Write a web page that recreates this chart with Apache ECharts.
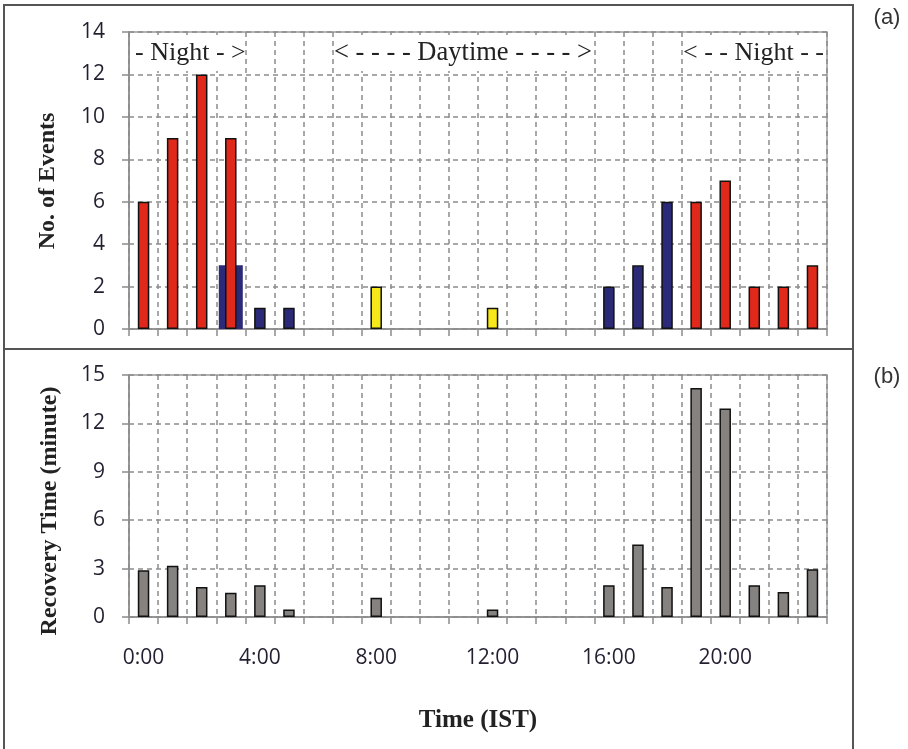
<!DOCTYPE html>
<html>
<head>
<meta charset="utf-8">
<script src="https://cdn.jsdelivr.net/npm/echarts@6/dist/echarts.min.js"></script>
<style>
html,body{margin:0;padding:0;background:#fff;}
#chart{width:908px;height:749px;}
</style>
</head>
<body>
<div id="chart"></div>
<script>
const hours = ['0:00','1:00','2:00','3:00','4:00','5:00','6:00','7:00','8:00','9:00','10:00','11:00',
  '12:00','13:00','14:00','15:00','16:00','17:00','18:00','19:00','20:00','21:00','22:00','23:00'];
const nightEvents  = [6,9,12,9,0,0,0,0,0,0,0,0,0,0,0,0,0,0,0,6,7,2,2,3];
const twilightEvents = [0,0,0,3,1,1,0,0,0,0,0,0,0,0,0,0,2,3,6,0,0,0,0,0];
const dayEvents    = [0,0,0,0,0,0,0,0,2,0,0,0,1,0,0,0,0,0,0,0,0,0,0,0];
const recoveryTime = [2.9,3.17,1.86,1.51,1.97,0.46,0,0,1.2,0,0,0,0.46,0,0,0,1.97,4.49,1.86,14.2,12.93,1.97,1.55,2.96];
const eventTicks = [0,2,4,6,8,10,12,14];
const recoveryTicks = [0,3,6,9,12,15];

const blank = v => (v ? v : '-');
const twilightNarrow = twilightEvents.map((v,i) => nightEvents[i] ? '-' : blank(v));
const twilightWide = twilightEvents.map((v,i) => nightEvents[i] ? blank(v) : '-');

const chart = echarts.init(document.getElementById('chart'), null, {renderer:'canvas'});
const gridLine = {show:true, lineStyle:{color:'#8c8c8c', width:1.5, type:[5,4]}};
const axisGray = {show:true, lineStyle:{color:'#8c8c8c', width:1.5}};
const tickFont = {fontFamily:'Open Sans', fontSize:21, color:'#241f30'};

function xAx(grid, showLabel, extra) {
  return Object.assign({
    type:'category', gridIndex:grid, data:hours, boundaryGap:true,
    axisLine:axisGray,
    axisTick:{show:true, interval:0, length:7, lineStyle:{color:'#8c8c8c', width:1.5}},
    splitLine:Object.assign({interval:0}, gridLine),
    axisLabel:Object.assign({show:showLabel, interval:3, margin:31}, tickFont)
  }, extra || {});
}
function yAx(grid, ticks) {
  return {
    type:'value', gridIndex:grid, min:ticks[0], max:ticks[ticks.length-1],
    interval:ticks[1]-ticks[0],
    axisLine:axisGray,
    axisTick:{show:true, length:7, lineStyle:{color:'#8c8c8c', width:1.5}},
    splitLine:gridLine,
    axisLabel:Object.assign({margin:24}, tickFont)
  };
}
const barBase = {type:'bar', barWidth:11.5, barGap:'-100%',
  itemStyle:{borderColor:'#111', borderWidth:1.5}};

const option = {
  animation:false,
  backgroundColor:'#fff',
  grid:[
    {left:129, top:32, width:698, height:297, show:true, borderColor:'#9a9a9a', borderWidth:1.5, backgroundColor:'transparent'},
    {left:129, top:375, width:698, height:242, show:true, borderColor:'#9a9a9a', borderWidth:1.5, backgroundColor:'transparent'}
  ],
  xAxis:[
    xAx(0, false),
    xAx(1, true, {name:'Time (IST)', nameLocation:'middle', nameGap:91,
      nameTextStyle:{fontFamily:'Liberation Serif', fontWeight:'bold', fontSize:25, color:'#222'}}),
    xAx(0, false, {show:false})
  ],
  yAxis:[ yAx(0, eventTicks), yAx(1, recoveryTicks) ],
  series:[
    Object.assign({}, barBase, {name:'twilight wide', xAxisIndex:2, yAxisIndex:0, barWidth:24, z:1,
      itemStyle:{color:'#2b2a78', borderWidth:0}, data:twilightWide}),
    Object.assign({}, barBase, {name:'night', xAxisIndex:0, yAxisIndex:0, z:3,
      itemStyle:{color:'#e0291a', borderColor:'#111', borderWidth:1.5}, data:nightEvents.map(blank)}),
    Object.assign({}, barBase, {name:'twilight', xAxisIndex:0, yAxisIndex:0, z:3,
      itemStyle:{color:'#2b2a78', borderColor:'#111', borderWidth:1.5}, data:twilightNarrow}),
    Object.assign({}, barBase, {name:'day', xAxisIndex:0, yAxisIndex:0, z:3,
      itemStyle:{color:'#f7e81a', borderColor:'#111', borderWidth:1.5}, data:dayEvents.map(blank)}),
    Object.assign({}, barBase, {name:'recovery', xAxisIndex:1, yAxisIndex:1, z:3,
      itemStyle:{color:'#858280', borderColor:'#111', borderWidth:1.5}, data:recoveryTime.map(blank)})
  ],
  graphic:[
    {type:'rect', shape:{x:4, y:5, width:849, height:770}, style:{fill:'none', stroke:'#555', lineWidth:2}, silent:true},
    {type:'line', shape:{x1:4, y1:349, x2:853, y2:349}, style:{stroke:'#555', lineWidth:2}, silent:true},
    {type:'rect', shape:{x:131, y:35, width:112, height:36}, style:{fill:'#fff'}, z:50},
    {type:'rect', shape:{x:335, y:35, width:257, height:36}, style:{fill:'#fff'}, z:50},
    {type:'rect', shape:{x:684, y:35, width:142, height:36}, style:{fill:'#fff'}, z:50},
    {type:'text', x:135, y:53, z:51, style:{text:'- Night - >', font:'26px "Liberation Serif"', fill:'#222', align:'left', verticalAlign:'middle'}},
    {type:'text', x:334, y:53, z:51, style:{text:'< - - - - Daytime - - - - >', font:'26.5px "Liberation Serif"', fill:'#222', align:'left', verticalAlign:'middle'}},
    {type:'text', x:683, y:53, z:51, style:{text:'< - - Night - -', font:'26px "Liberation Serif"', fill:'#222', align:'left', verticalAlign:'middle'}},
    {type:'text', x:48, y:181, rotation:Math.PI/2, z:51, style:{text:'No. of Events', font:'bold 24px "Liberation Serif"', fill:'#222', align:'center', verticalAlign:'middle'}},
    {type:'text', x:50, y:511, rotation:Math.PI/2, z:51, style:{text:'Recovery Time (minute)', font:'bold 24px "Liberation Serif"', fill:'#222', align:'center', verticalAlign:'middle'}},
    {type:'text', x:887, y:18, z:51, style:{text:'(a)', font:'22px "Liberation Sans"', fill:'#333', align:'center', verticalAlign:'middle'}},
    {type:'text', x:887, y:377, z:51, style:{text:'(b)', font:'22px "Liberation Sans"', fill:'#333', align:'center', verticalAlign:'middle'}}
  ]
};
chart.setOption(option);
</script>
</body>
</html>
